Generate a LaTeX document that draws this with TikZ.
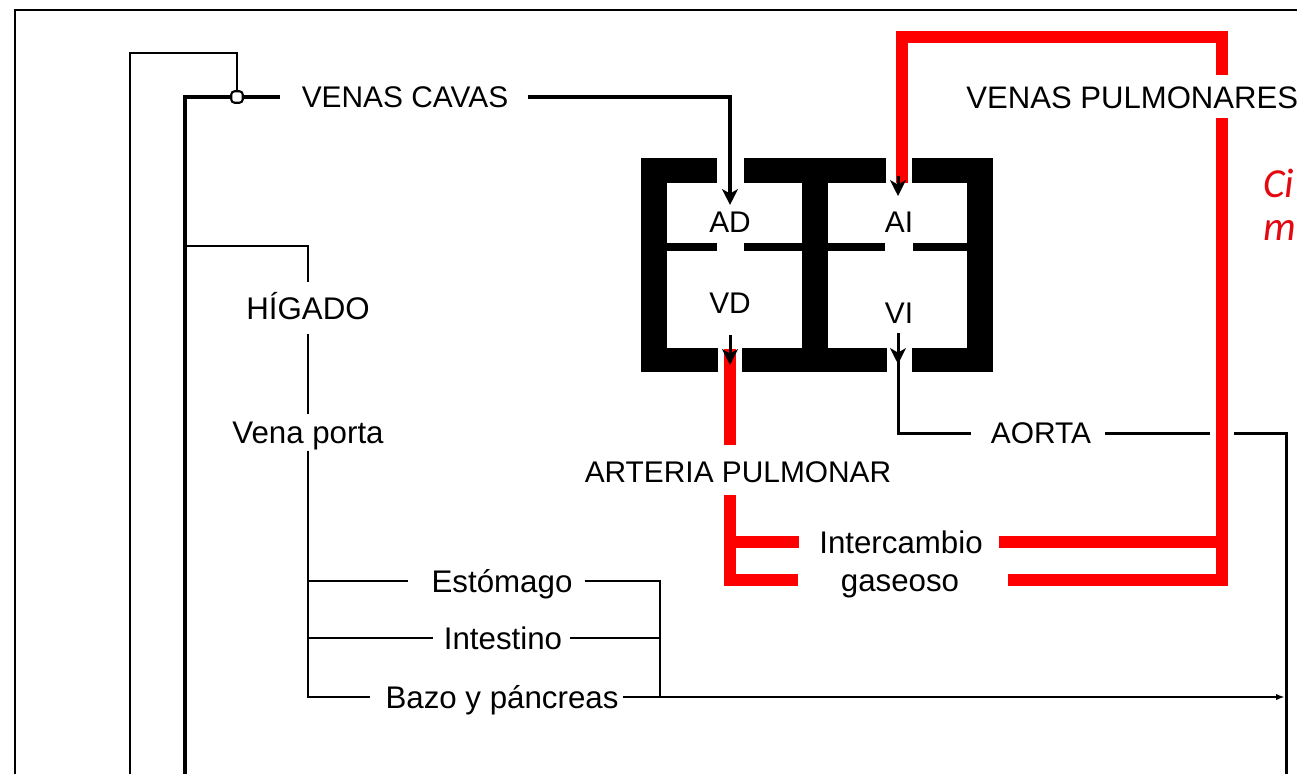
\documentclass[tikz,border=0pt]{standalone}
\usepackage{fontspec}
\setmainfont{Liberation Sans}
\newfontfamily\carlitofont{Carlito}
\usetikzlibrary{arrows.meta}
\definecolor{bred}{RGB}{255,0,0}
\definecolor{tred}{RGB}{228,8,16}
\begin{document}
\begin{tikzpicture}[x=0.02cm,y=-0.02cm,
  lbl/.style={inner sep=0pt, font=\fontsize{17}{20}\selectfont, text height=12.2pt, text depth=0pt},
  lbll/.style={inner sep=0pt, font=\fontsize{17.8}{20}\selectfont, text height=12.7pt, text depth=0pt},
  redtxt/.style={inner sep=0pt, text=tred, font=\carlitofont\itshape\fontsize{23.5}{26}\selectfont},
  thn/.style={line width=1.3pt, line join=miter},
  thk/.style={line width=2.8pt, line join=miter},
  mid/.style={line width=1.7pt, line join=miter},
  redl/.style={draw=bred, line width=7pt, line join=miter},
  tip/.style={-{Stealth[length=9pt,width=9pt,inset=2.5pt]}},
]
\useasboundingbox (0,0) rectangle (1297,774);
% frame
\draw[line width=1.5pt] (15,774) -- (15,10) -- (1297,10);
% heart walls
\fill[black] (641,158) rectangle (993,372);
\fill[white] (667,183) rectangle (802,348);
\fill[white] (828,183) rectangle (967,348);
\fill[white] (717,156) rectangle (744,184);
\fill[white] (886,156) rectangle (912,184);
\fill[white] (718,347) rectangle (742,374);
\fill[white] (887,347) rectangle (912,374);
\fill[black] (667,243) rectangle (717,251);
\fill[black] (744,243) rectangle (802,251);
\fill[black] (828,243) rectangle (885,251);
\fill[black] (913,243) rectangle (967,251);
% labels
\node[lbl] (vc) at (405,97) {VENAS CAVAS};
\node[lbl,anchor=west,font=\fontsize{17.7}{20}\selectfont] (vp) at (966,98) {VENAS PULMONARES};
\node[lbll] (hig) at (308,308) {HÍGADO};
\node[lbll] (vport) at (308,432) {Vena porta};
\node[lbll] (est) at (502,581) {Estómago};
\node[lbll] (int) at (503,638) {Intestino};
\node[lbll] (baz) at (502,697) {Bazo y páncreas};
\node[lbl] (ad) at (730,222) {AD};
\node[lbl] (ai) at (899,222) {AI};
\node[lbl] (vd) at (730,303) {VD};
\node[lbl] (vi) at (899,313) {VI};
\node[lbl] (aorta) at (1041,433) {AORTA};
\node[lbl] (artp) at (738,472) {ARTERIA PULMONAR};
\node[lbll] (inter) at (901,542) {Intercambio};
\node[lbll] (gas) at (900,580) {gaseoso};
\node[redtxt,anchor=base west] (ci) at (1263,197) {Ci};
\node[redtxt,anchor=base west] (me) at (1263,240) {m};
% venous return (black)
\draw[thk, shorten >=12pt] (185,774) |- (vc.west);
\node[rectangle, rounded corners=2pt, draw, fill=white, line width=1.2pt, inner sep=0pt, minimum size=6.6pt] (junc) at (237,97) {};
\draw[thn] (130,774) |- (237,53) -- (junc.north);
\draw[thk, tip, shorten <=10.8pt, shorten >=3.4pt] (vc.east) -| (ad.north);
% portal system
\draw[thn, shorten >=8pt] (185,246) -| (hig.north);
\draw[thn, shorten <=8pt, shorten >=3.5pt] (hig.south) -- (vport.north);
\draw[thn, shorten <=4pt, shorten >=8.5pt] (vport.south) |- (baz.west);
\draw[thn, shorten >=13pt] (308,581) -- (est.west);
\draw[thn, shorten >=6.2pt] (308,638) -- (int.west);
\draw[thn, shorten <=6.8pt] (est.east) -- (660,581) -- (660,697);
\draw[thn, shorten <=4.5pt] (int.east) -- (660,638);
\draw[thn, shorten <=2.3pt, -{Latex[length=5pt,width=3.5pt]}] (baz.east) -- (1285,697);
% aorta
\draw[mid, tip] (898,333) -- (898,364);
\draw[mid, shorten >=11.3pt] (898,355) |- (aorta.west);
\draw[mid, shorten <=8pt] (aorta.east) -- (1286,433) -- (1286,774);
% pulmonary circuit (red)
\draw[redl] (1222,75) -- (1222,37) -- (902,37) -- (902,183);
\draw[mid, tip] (898,176) -- (898,196);
\draw[redl, preaction={draw=white, line width=14pt}] (1222,118) -- (1222,586);
\coordinate (vdb) at (730,349);
\draw[redl, shorten >=9pt] (vdb) -- (vdb |- artp.north);
\draw[redl, shorten <=7pt] (vdb |- artp.south) -- (730,586);
\draw[mid, tip] (730,335) -- (730,365);
\draw[redl, shorten >=11.3pt] (730,542) -- (inter.west);
\draw[redl, shorten <=9pt] (inter.east) -- (1222,542);
\draw[redl, shorten >=24.4pt] (730,580) -- (gas.west);
\draw[redl, shorten <=27.8pt] (gas.east) -- (1222,580);
\end{tikzpicture}
\end{document}
